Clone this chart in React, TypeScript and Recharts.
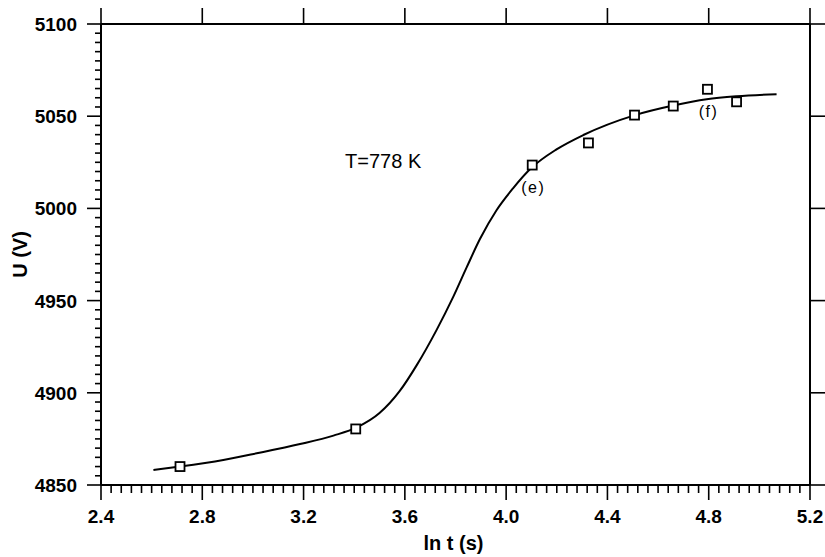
import React from "react";
import {
  ComposedChart,
  Scatter,
  XAxis,
  YAxis,
  ReferenceDot,
} from "recharts";

// fitted curve
const curveX = [2.607, 2.712, 2.883, 3.015, 3.186, 3.318, 3.41, 3.5, 3.58, 3.647, 3.725, 3.791, 3.844, 3.897, 3.962, 4.028, 4.1, 4.199, 4.305, 4.509, 4.66, 4.792, 4.91, 5.068];
const curveU = [4858.1, 4860.0, 4863.6, 4867.2, 4872.2, 4876.8, 4881.2, 4889, 4901, 4915, 4934, 4952, 4968, 4983.5, 4999, 5011, 5022, 5032, 5039.8, 5050.6, 5055.8, 5059.2, 5060.8, 5061.9];

// measured points
const pointX = [2.712, 3.406, 4.103, 4.325, 4.507, 4.66, 4.795, 4.91];
const pointU = [4860, 4880.4, 5023.5, 5035.5, 5050.6, 5055.5, 5064.6, 5057.8];
const pointNote = ["", "", "(e)", "", "", "", "(f)", ""];

const xMajor = [2.4, 2.8, 3.2, 3.6, 4.0, 4.4, 4.8, 5.2];
const yMajor = [4850, 4900, 4950, 5000, 5050, 5100];
const xMinorStep = 0.04;
const yMinorStep = 5;

const curve = curveX.map((x, i) => ({ x, y: curveU[i] }));
const points = pointX.map((x, i) => ({ x, y: pointU[i], note: pointNote[i] }));

const xTicks = Array.from({ length: 71 }, (_, i) => +(2.4 + i * xMinorStep).toFixed(2));
const yTicks = Array.from({ length: 51 }, (_, i) => 4850 + i * yMinorStep);

const FONT = "'Liberation Sans', Arial, Helvetica, sans-serif";

const isMajorX = (v: number) => xMajor.some((m) => Math.abs(m - v) < 1e-6);
const isMajorY = (v: number) => yMajor.some((m) => Math.abs(m - v) < 1e-6);

const BottomTick = ({ x, y, payload }: any) => {
  const major = isMajorX(payload.value);
  return (
    <g>
      <line x1={x} y1={y} x2={x} y2={y + (major ? 15 : 8)} stroke="#000" strokeWidth={1.6} />
      {major && (
        <text x={x} y={y + 38} textAnchor="middle" fontSize={19} fontWeight="bold" fontFamily={FONT} fill="#000">
          {payload.value.toFixed(1)}
        </text>
      )}
    </g>
  );
};

const TopTick = ({ x, y }: any) => (
  <line x1={x} y1={y} x2={x} y2={y - 16} stroke="#000" strokeWidth={1.6} />
);

const LeftTick = ({ x, y, payload }: any) => {
  const major = isMajorY(payload.value);
  return (
    <g>
      <line x1={x} y1={y} x2={x - (major ? 14 : 6)} y2={y} stroke="#000" strokeWidth={1.6} />
      {major && (
        <text x={x - 24} y={y + 7} textAnchor="end" fontSize={19} fontWeight="bold" fontFamily={FONT} fill="#000">
          {payload.value}
        </text>
      )}
    </g>
  );
};

const RightTick = ({ x, y }: any) => (
  <line x1={x} y1={y} x2={x + 15} y2={y} stroke="#000" strokeWidth={1.6} />
);

const Square = ({ cx, cy, payload }: any) => (
  <g>
    <rect x={cx - 4.5} y={cy - 4.5} width={9} height={9} fill="#fff" stroke="#000" strokeWidth={1.8} />
    {payload.note && (
      <text x={cx + 1} y={cy + 28} textAnchor="middle" fontSize={16} letterSpacing={1.5} fontFamily={FONT} fill="#000">
        {payload.note}
      </text>
    )}
  </g>
);

const YLabel = ({ viewBox }: any) => {
  const cy = viewBox.y + viewBox.height / 2;
  return (
    <text x={20} y={cy} transform={`rotate(-90, 20, ${cy})`} textAnchor="middle" dominantBaseline="central"
      fontSize={20} fontWeight="bold" fontFamily={FONT} fill="#000">
      U (V)
    </text>
  );
};

const XLabel = ({ viewBox }: any) => {
  const cx = viewBox.x + viewBox.width / 2;
  return (
    <text x={cx - 2} y={550} textAnchor="middle" fontSize={20} fontWeight="bold" fontFamily={FONT} fill="#000">
      ln t (s)
    </text>
  );
};

const TempLabel = ({ viewBox }: any) => (
  <text x={viewBox.x} y={viewBox.y + 7} textAnchor="start" fontSize={20} fontFamily={FONT} fill="#000">
    T=778 K
  </text>
);

export default function App() {
  return (
    <div style={{ position: "absolute", left: 0, top: 0, width: 825, height: 557, background: "#fff" }}>
      <ComposedChart width={825} height={557} margin={{ top: 0, right: 0, bottom: 0, left: 0 }}>
        <XAxis
          xAxisId="b"
          type="number"
          dataKey="x"
          domain={[2.4, 5.2]}
          ticks={xTicks}
          interval={0}
          height={72}
          tickSize={0}
          tickMargin={0}
          tickLine={false}
          tick={<BottomTick />}
          axisLine={{ stroke: "#000", strokeWidth: 2 }}
          allowDataOverflow
          label={<XLabel />}
        />
        <XAxis
          xAxisId="t"
          orientation="top"
          type="number"
          dataKey="x"
          domain={[2.4, 5.2]}
          ticks={xMajor}
          interval={0}
          height={24}
          tickSize={0}
          tickMargin={0}
          tickLine={false}
          tick={<TopTick />}
          axisLine={{ stroke: "#000", strokeWidth: 2 }}
          allowDataOverflow
        />
        <YAxis
          yAxisId="l"
          type="number"
          dataKey="y"
          domain={[4850, 5100]}
          ticks={yTicks}
          interval={0}
          width={101}
          tickSize={0}
          tickMargin={0}
          tickLine={false}
          tick={<LeftTick />}
          axisLine={{ stroke: "#000", strokeWidth: 2 }}
          allowDataOverflow
          label={<YLabel />}
        />
        <YAxis
          yAxisId="r"
          orientation="right"
          type="number"
          dataKey="y"
          domain={[4850, 5100]}
          ticks={yMajor}
          interval={0}
          width={15}
          tickSize={0}
          tickMargin={0}
          tickLine={false}
          tick={<RightTick />}
          axisLine={{ stroke: "#000", strokeWidth: 2 }}
          allowDataOverflow
        />
        <Scatter
          xAxisId="b"
          yAxisId="l"
          data={curve}
          line={{ stroke: "#000", strokeWidth: 2 }}
          lineJointType="monotoneX"
          shape={() => <g />}
          isAnimationActive={false}
        />
        <Scatter
          xAxisId="b"
          yAxisId="l"
          data={points}
          shape={<Square />}
          isAnimationActive={false}
        />
        <ReferenceDot
          xAxisId="b"
          yAxisId="l"
          x={3.364}
          y={5025.7}
          r={0}
          fill="none"
          stroke="none"
          label={<TempLabel />}
        />
      </ComposedChart>
    </div>
  );
}
